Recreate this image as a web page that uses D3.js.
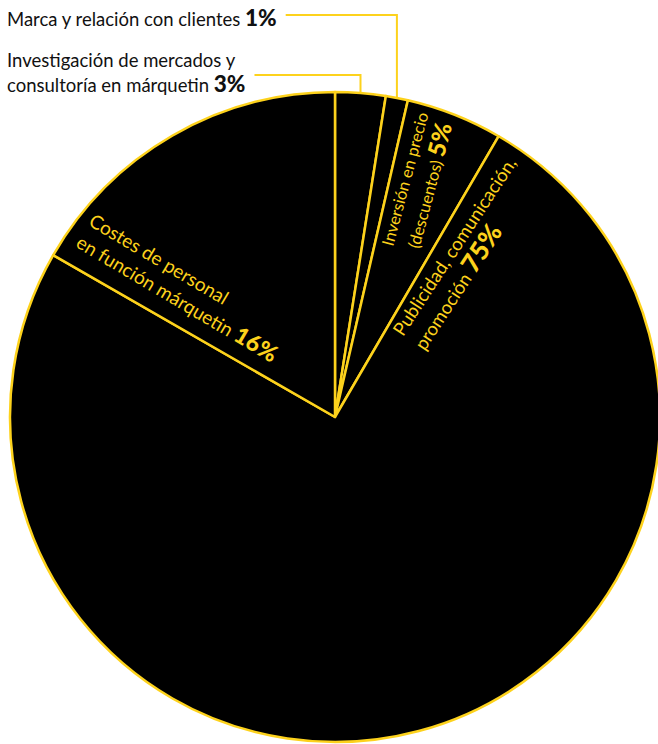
<!DOCTYPE html>
<html><head><meta charset="utf-8">
<script src="https://cdn.jsdelivr.net/npm/d3@7"></script>
<style>
body{margin:0;background:#fff}
svg{display:block}
text{font-family:Lato, "Noto Sans", sans-serif}
</style>
</head><body>
<script>
// ---- data ----
const categories = [
  "Investigación de mercados y consultoría en márquetin",
  "Marca y relación con clientes",
  "Inversión en precio (descuentos)",
  "Publicidad, comunicación, promoción",
  "Costes de personal en función márquetin"
];
const values = [2.5, 1.1, 4.8, 74.9, 16.7];
const percentLabels = ["3%", "1%", "5%", "75%", "16%"];
const labelLines = [
  ["Investigación de mercados y", "consultoría en márquetin"],
  ["Marca y relación con clientes"],
  ["Inversión en precio", "(descuentos)"],
  ["Publicidad, comunicación,", "promoción"],
  ["Costes de personal", "en función márquetin"]
];

// ---- layout ----
const W = 658, H = 744;
const cx = 335, cy = 417, R = 325;
const YELLOW = "#fdd21c";

const svg = d3.select("body").append("svg").attr("width", W).attr("height", H);
const g = svg.append("g").attr("transform", `translate(${cx},${cy})`);

const pie = d3.pie().sort(null).value(d => d);
const arcs = pie(values);
const arc = d3.arc().innerRadius(0).outerRadius(R);

g.selectAll("path.slice").data(arcs).enter().append("path")
  .attr("class", "slice")
  .attr("d", arc)
  .attr("fill", "#000")
  .attr("stroke", YELLOW)
  .attr("stroke-width", 2.5)
  .attr("stroke-linejoin", "round");

const deg = r => r * 180 / Math.PI;
const polar = (a, r) => [r * Math.sin(a), -r * Math.cos(a)];

// ---- outside labels (small slices) with leader lines ----
const outside = [
  { i: 1, x: 7, baselines: [26], leaderY: 15 },
  { i: 0, x: 7, baselines: [67, 92], leaderY: 75 }
];
outside.forEach(o => {
  const lines = labelLines[o.i];
  let lastText;
  lines.forEach((ln, k) => {
    const t = svg.append("text")
      .attr("x", o.x).attr("y", o.baselines[k])
      .attr("font-size", 18.5).attr("fill", "#111");
    t.append("tspan").text(ln);
    if (k === lines.length - 1) {
      t.append("tspan").text(" ");
      t.append("tspan").attr("font-weight", 900).attr("font-size", 22.5).text(percentLabels[o.i]);
      lastText = t;
    }
  });
  const bb = lastText.node().getBBox();
  const a = arcs[o.i];
  const mid = (a.startAngle + a.endAngle) / 2;
  const p = polar(mid, R);
  const px = cx + p[0], py = cy + p[1];
  svg.append("polyline")
    .attr("points", [[bb.x + bb.width + 9, o.leaderY], [px, o.leaderY], [px, py]].map(d => d.join(",")).join(" "))
    .attr("fill", "none").attr("stroke", YELLOW).attr("stroke-width", 2);
});

// ---- inside labels (rotated) ----
const inside = [
  { i: 2, rot: () => -75, x: 248, baselines: [12, 38], anchor: "middle", size: 16.5, pct: 24 },
  { i: 3, rot: a => deg(a.startAngle) - 90 + 3, x: 104, baselines: [13, 39], anchor: "start", size: 18.5, pct: 26 },
  { i: 4, rot: a => deg(a.startAngle) - 270 + 0.8, x: -311, baselines: [-39, -14], anchor: "start", size: 19, pct: 23 }
];
inside.forEach(o => {
  const a = arcs[o.i];
  const lg = g.append("g").attr("transform", `rotate(${o.rot(a)})`);
  const lines = labelLines[o.i];
  lines.forEach((ln, k) => {
    const t = lg.append("text")
      .attr("x", o.x).attr("y", o.baselines[k])
      .attr("text-anchor", o.anchor)
      .attr("font-size", o.size).attr("fill", YELLOW);
    t.append("tspan").text(ln);
    if (k === lines.length - 1) {
      t.append("tspan").text(" ");
      t.append("tspan").attr("font-weight", 900).attr("font-size", o.pct).text(percentLabels[o.i]);
    }
  });
});
</script>
</body></html>
